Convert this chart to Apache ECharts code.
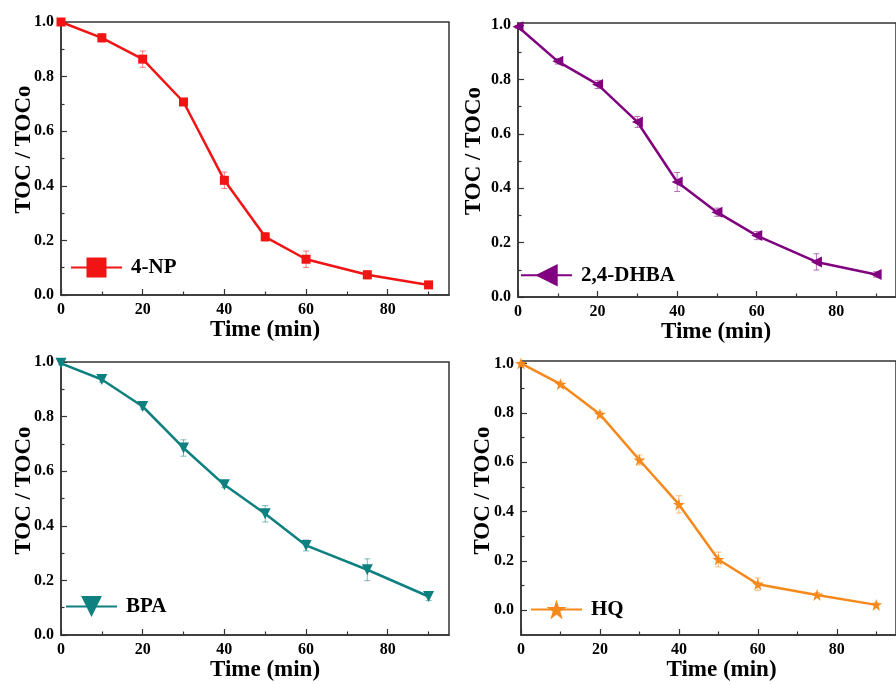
<!DOCTYPE html>
<html>
<head>
<meta charset="utf-8">
<script src="https://cdn.jsdelivr.net/npm/echarts@6/dist/echarts.min.js"></script>
<style>
html,body{margin:0;padding:0;background:#fff;}
#chart{width:896px;height:684px;}
</style>
</head>
<body>
<div id="chart"></div>
<script>
// ---- data ----
const timeMin = [0, 10, 20, 30, 40, 50, 60, 75, 90];
const np4 = [1.0, 0.942, 0.864, 0.707, 0.42, 0.213, 0.131, 0.074, 0.037];
const np4Err = [0.005, 0.015, 0.03, 0.012, 0.03, 0.015, 0.03, 0.015, 0.008];
const dhba = [0.994, 0.867, 0.782, 0.644, 0.423, 0.312, 0.226, 0.129, 0.083];
const dhbaErr = [0.005, 0.01, 0.015, 0.02, 0.035, 0.015, 0.015, 0.03, 0.01];
const bpa = [0.995, 0.936, 0.837, 0.685, 0.55, 0.444, 0.328, 0.239, 0.141];
const bpaErr = [0.005, 0.01, 0.01, 0.03, 0.01, 0.03, 0.02, 0.04, 0.015];
const hq = [1.0, 0.916, 0.794, 0.609, 0.429, 0.206, 0.106, 0.062, 0.022];
const hqErr = [0.005, 0.01, 0.01, 0.02, 0.035, 0.03, 0.025, 0.01, 0.008];
const xTickLabels = [0, 20, 40, 60, 80];
const xMinorTicks = [10, 30, 50, 70, 90];
const yTickLabels = [0, 0.2, 0.4, 0.6, 0.8, 1.0];
const yMinorTicks = [0.1, 0.3, 0.5, 0.7, 0.9];
const seriesNames = ['4-NP', '2,4-DHBA', 'BPA', 'HQ'];
const xName = 'Time (min)';
const yName = 'TOC / TOCo';

// ---- styling ----
const FONT = '"Liberation Serif", "Times New Roman", serif';
const AX = '#333';
const STAR = 'path://M50,0 L61.8,35.4 L100,35.4 L69.1,57.3 L80.9,95.1 L50,71.9 L19.1,95.1 L30.9,57.3 L0,35.4 L38.2,35.4 Z';

const panels = [
  {name: seriesNames[0], y: np4, err: np4Err, color: '#f01414', symbol: 'rect', rot: 0, size: 9,
   grid: {left: 61, top: 22, width: 388, height: 273}, ymin: 0, ymax: 1.0,
   legend: {left: 70, top: 257, h: 25}, yGap: 25, yPad: 18, xPad: 20},
  {name: seriesNames[1], y: dhba, err: dhbaErr, color: '#800080', symbol: 'triangle', rot: 90, size: 11,
   grid: {left: 518, top: 23, width: 388, height: 274}, ymin: 0, ymax: 1.008,
   legend: {left: 520, top: 264, h: 28}, yGap: 32, yPad: 18, xPad: 18},
  {name: seriesNames[2], y: bpa, err: bpaErr, color: '#0e8080', symbol: 'triangle', rot: 180, size: 11,
   grid: {left: 61, top: 362, width: 388, height: 273}, ymin: 0, ymax: 1.0,
   legend: {left: 65, top: 596, h: 26}, yGap: 25, yPad: 16, xPad: 20},
  {name: seriesNames[3], y: hq, err: hqErr, color: '#f5891c', symbol: STAR, rot: 0, size: 12,
   grid: {left: 521, top: 361, width: 389, height: 274}, ymin: -0.1, ymax: 1.01,
   legend: {left: 530, top: 599, h: 25}, yGap: 26, yPad: 15, xPad: 26}
];

const grid = [], xAxis = [], yAxis = [], series = [], legend = [];
const labelStyle = {color: '#000', fontFamily: FONT, fontWeight: 'bold', fontSize: 16};
const nameStyle = {color: '#000', fontFamily: FONT, fontWeight: 'bold', fontSize: 23};

panels.forEach((p, i) => {
  grid.push(Object.assign({show: true, borderColor: AX, borderWidth: 1.5, backgroundColor: 'transparent'}, p.grid));
  // main x axis
  xAxis.push({
    type: 'value', gridIndex: i, min: 0, max: 95, position: 'bottom',
    name: xName, nameLocation: 'middle', nameGap: 19,
    nameTextStyle: Object.assign({padding: [0, 0, 0, p.xPad]}, nameStyle),
    axisLine: {show: true, onZero: false, lineStyle: {color: AX, width: 1.5}},
    axisTick: {show: true, inside: true, length: 6, customValues: xTickLabels, lineStyle: {color: AX, width: 1.2}},
    axisLabel: Object.assign({customValues: xTickLabels, margin: 7}, labelStyle),
    splitLine: {show: false}
  });
  // minor x ticks
  xAxis.push({
    type: 'value', gridIndex: i, min: 0, max: 95, position: 'bottom',
    axisLine: {show: false, onZero: false}, axisLabel: {show: false}, splitLine: {show: false},
    axisTick: {show: true, inside: true, length: 3.5, customValues: xMinorTicks, lineStyle: {color: AX, width: 1.2}}
  });
  // main y axis
  yAxis.push({
    type: 'value', gridIndex: i, min: p.ymin, max: p.ymax, position: 'left',
    name: yName, nameLocation: 'middle', nameGap: p.yGap, nameMoveOverlap: false,
    nameTextStyle: Object.assign({padding: [0, 0, 0, p.yPad]}, nameStyle),
    axisLine: {show: true, onZero: false, lineStyle: {color: AX, width: 1.5}},
    axisTick: {show: true, inside: true, length: 6, customValues: yTickLabels, lineStyle: {color: AX, width: 1.2}},
    axisLabel: Object.assign({customValues: yTickLabels, margin: 7, formatter: v => v.toFixed(1)}, labelStyle),
    splitLine: {show: false}
  });
  yAxis.push({
    type: 'value', gridIndex: i, min: p.ymin, max: p.ymax, position: 'left',
    axisLine: {show: false, onZero: false}, axisLabel: {show: false}, splitLine: {show: false},
    axisTick: {show: true, inside: true, length: 3.5, customValues: yMinorTicks, lineStyle: {color: AX, width: 1.2}}
  });
  const xi = i * 2, yi = i * 2;
  const color = p.color;
  // error bars
  series.push({
    type: 'custom', xAxisIndex: xi, yAxisIndex: yi, silent: true, z: 1,
    data: timeMin.map((t, k) => [t, p.y[k], p.err[k]]),
    renderItem: (params, api) => {
      const x = api.value(0), y = api.value(1), e = api.value(2);
      const a = api.coord([x, y + e]);
      const b = api.coord([x, y - e]);
      const hw = 3;
      const st = {stroke: color, lineWidth: 1, opacity: 0.55};
      return {type: 'group', children: [
        {type: 'line', shape: {x1: a[0], y1: a[1], x2: b[0], y2: b[1]}, style: st},
        {type: 'line', shape: {x1: a[0] - hw, y1: a[1], x2: a[0] + hw, y2: a[1]}, style: st},
        {type: 'line', shape: {x1: b[0] - hw, y1: b[1], x2: b[0] + hw, y2: b[1]}, style: st}
      ]};
    }
  });
  series.push({
    type: 'line', name: p.name, xAxisIndex: xi, yAxisIndex: yi, z: 3,
    data: timeMin.map((t, k) => [t, p.y[k]]),
    symbol: p.symbol, symbolSize: p.size, symbolRotate: p.rot, showAllSymbol: true,
    lineStyle: {color: color, width: 2.5},
    itemStyle: {color: color},
    clip: false, animation: false
  });
  legend.push({
    data: [p.name], left: p.legend.left, top: p.legend.top, padding: 0,
    itemWidth: 51, itemHeight: p.legend.h, selectedMode: false,
    textStyle: {color: '#000', fontFamily: FONT, fontWeight: 'bold', fontSize: 21, padding: [0, 0, 0, 4]}
  });
});

const chart = echarts.init(document.getElementById('chart'), null, {renderer: 'canvas'});
chart.setOption({animation: false, backgroundColor: '#fff', grid, xAxis, yAxis, series, legend});
</script>
</body>
</html>
